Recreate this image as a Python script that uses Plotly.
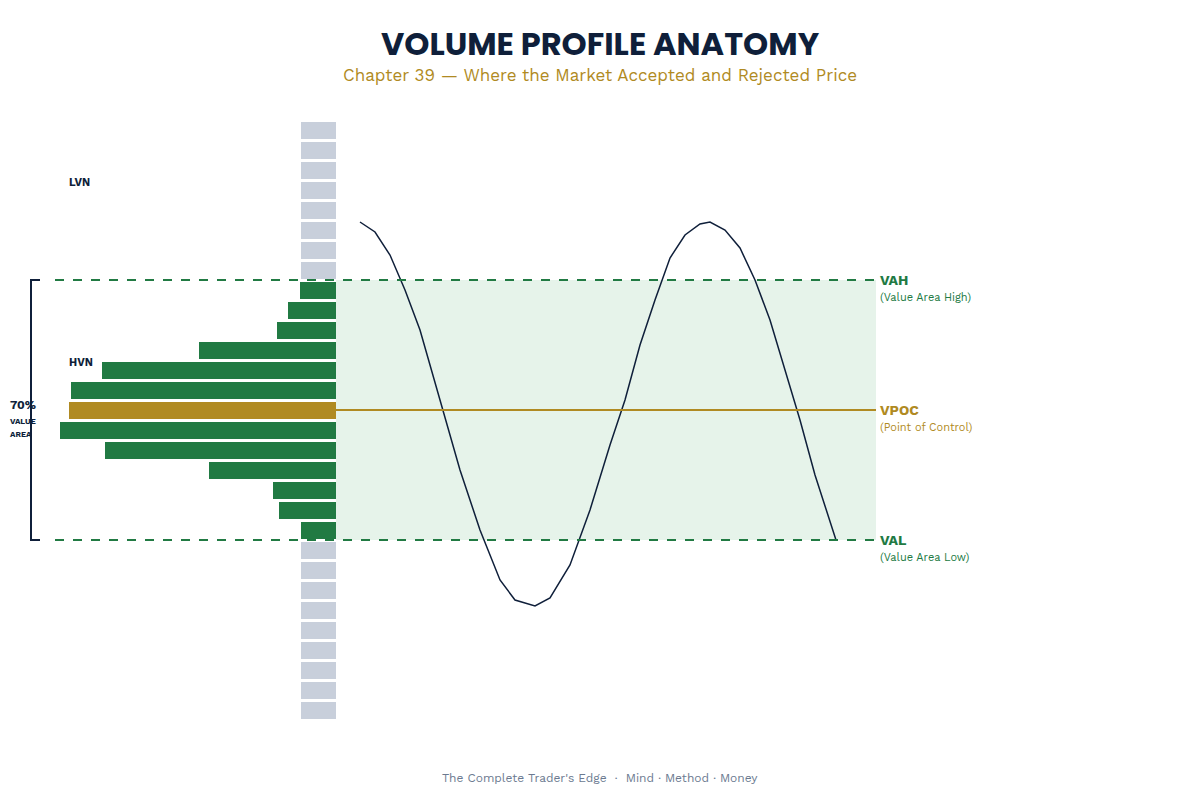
import plotly.graph_objects as go

# Profile rows (price levels top -> bottom) and volumes
prices = [130 - i for i in range(30)]
volumes = [35]*8 + [36, 48, 59, 137, 234, 265, 267, 276, 231, 127, 63, 57, 35] + [35]*9
VAH, VAL, VPOC = 122.5, 109.5, 116
# price path (time, price)
path_t = [360,375,390,405,420,440,460,480,500,515,535,550,570,590,610,625,640,655,670,685,700,710,725,740,755,770,785,800,815,825,836]
path_p = [125.4,124.9,123.75,122,120,116.5,113,110,107.5,106.5,106.2,106.6,108.25,111,114.25,116.5,119.25,121.5,123.6,124.75,125.3,125.4,125,124.1,122.5,120.5,118,115.5,112.75,111.25,109.5]

GREEN, GOLD, GRAY, NAVY = "#217a43", "#b08a22", "#c8cfdb", "#0f1f3a"
colors = []
for p in prices:
    if p == VPOC: colors.append(GOLD)
    elif VAL < p < VAH: colors.append(GREEN)
    else: colors.append(GRAY)

W, H = 1184, 784
fig = go.Figure()
fig.add_shape(type="rect", x0=55, x1=876, y0=VAL, y1=VAH, fillcolor="#e6f3ea", line_width=0, layer="below")
fig.add_trace(go.Bar(y=prices, x=volumes, orientation="h", xaxis="x2", marker_color=colors,
                     marker_line_width=0, width=0.85, showlegend=False))
fig.add_trace(go.Scatter(x=path_t, y=path_p, mode="lines", line=dict(color=NAVY, width=1.5), showlegend=False))
for yv in (VAH, VAL):
    fig.add_shape(type="line", x0=55, x1=876, y0=yv, y1=yv, line=dict(color=GREEN, width=2, dash="dash"))
fig.add_shape(type="line", x0=336, x1=876, y0=VPOC, y1=VPOC, line=dict(color=GOLD, width=2))
fig.add_shape(type="path", path=f"M 40 {VAH} L 31 {VAH} L 31 {VAL} L 40 {VAL}", line=dict(color=NAVY, width=2))

F = "Work Sans, Inter, sans-serif"
def txt(x, y, s, size, color, bold=False, xanchor="left", xref="x"):
    fig.add_annotation(x=x, y=y, xref=xref, text=f"<b>{s}</b>" if bold else s, showarrow=False, xanchor=xanchor,
                       font=dict(size=size, color=color, family=F))
txt(878, VAH, "VAH", 14, GREEN, True); txt(878, VAH-0.85, "(Value Area High)", 11, GREEN)
txt(878, VPOC, "VPOC", 14, GOLD, True); txt(878, VPOC-0.85, "(Point of Control)", 11, GOLD)
txt(878, VAL, "VAL", 14, GREEN, True); txt(878, VAL-0.85, "(Value Area Low)", 11, GREEN)
txt(67, 127.4, "LVN", 11, NAVY, True); txt(67, 118.4, "HVN", 11, NAVY, True)
txt(0, 116.25, "70%", 12, NAVY, True, xref="paper")
txt(0, 115.45, "VALUE", 8, NAVY, True, xref="paper")
txt(0, 114.8, "AREA", 8, NAVY, True, xref="paper")

def py(pagey):
    return 1 - (pagey - 8) / H

fig.update_layout(
    width=W, height=H, margin=dict(l=0, r=0, t=0, b=0),
    paper_bgcolor="white", plot_bgcolor="white", bargap=0,
    xaxis=dict(range=[8, 8 + W], visible=False, domain=[0, 1]),
    xaxis2=dict(range=[328, 0], domain=[0, 328 / W], visible=False, anchor="y"),
    yaxis=dict(range=[130 - (8 + H - 130) / 20, 130 - (8 - 130) / 20], visible=False),
    title=dict(text="<b>VOLUME PROFILE ANATOMY</b>", x=0.5, y=py(44), xanchor="center", yanchor="middle",
               font=dict(size=32, color=NAVY, family="Poppins, Montserrat, Inter, sans-serif")),
)
fig.add_annotation(xref="paper", yref="paper", x=0.5, y=py(75), yanchor="middle",
                   text="Chapter 39 — Where the Market Accepted and Rejected Price",
                   showarrow=False, font=dict(size=17, color=GOLD, family=F))
fig.add_annotation(xref="paper", yref="paper", x=0.5, y=py(778), yanchor="middle",
                   text="The Complete Trader's Edge  ·  Mind · Method · Money",
                   showarrow=False, font=dict(size=12, color="#6b7a90", family=F))
fig.write_html("out.html")
